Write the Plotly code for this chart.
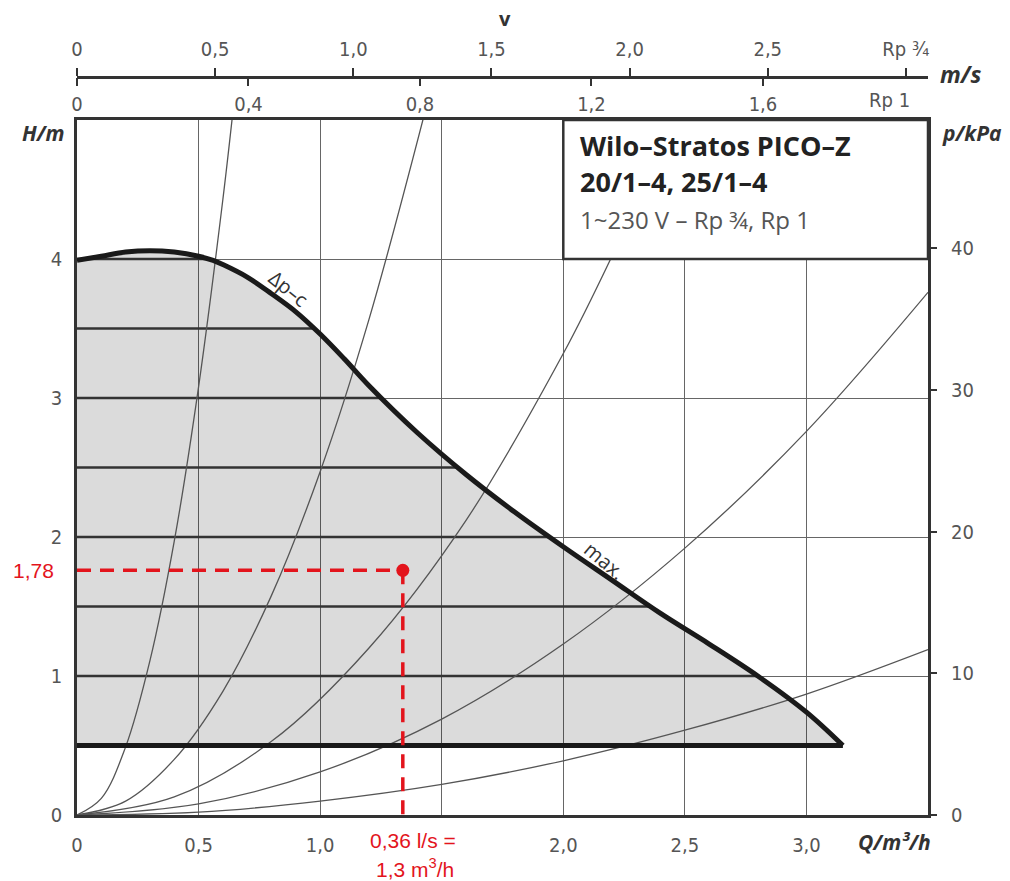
import numpy as np
import plotly.graph_objects as go

# ---------------- data ----------------
# max. curve of the pump (Q in m3/h, H in m)
max_q = [0, 0.1, 0.2, 0.3, 0.4, 0.5, 0.56, 0.6, 0.7, 0.8, 0.9, 1.0, 1.1, 1.2, 1.4, 1.6,
         1.8, 2.0, 2.2, 2.4, 2.6, 2.8, 3.0, 3.15]
max_h = [3.99, 4.02, 4.05, 4.06, 4.05, 4.02, 3.99, 3.96, 3.87, 3.75, 3.62, 3.46, 3.28, 3.09,
         2.75, 2.45, 2.18, 1.93, 1.69, 1.45, 1.23, 1.00, 0.74, 0.50]
min_level = 0.5
dpc_levels = [1.0, 1.5, 2.0, 2.5, 3.0, 3.5, 4.0]

# system curves (pipe characteristics)
sys1_q = [0, 0.1, 0.2, 0.3, 0.4, 0.5, 0.6, 0.64]
sys1_h = [0, 0.12, 0.49, 1.11, 1.97, 3.08, 4.43, 5.04]
sys2_q = [0, 0.2, 0.4, 0.6, 0.8, 1.0, 1.2, 1.43]
sys2_h = [0, 0.10, 0.40, 0.89, 1.58, 2.47, 3.56, 5.05]
sys3_q = [0, 0.4, 0.8, 1.2, 1.6, 2.0, 2.2, 2.46]
sys3_h = [0, 0.13, 0.53, 1.20, 2.12, 3.32, 4.02, 5.02]
sys4_q = [0, 0.5, 1.0, 1.5, 2.0, 2.5, 3.0, 3.5]
sys4_h = [0, 0.08, 0.31, 0.69, 1.23, 1.92, 2.76, 3.76]
sys5_q = [0, 0.5, 1.0, 1.5, 2.0, 2.5, 3.0, 3.5]
sys5_h = [0, 0.02, 0.10, 0.22, 0.39, 0.61, 0.87, 1.19]

# operating point
op_q = 1.34
op_h = 1.76
op_h_label = "1,78"
op_q_label = ["0,36 l/s =", "1,3 m<sup>3</sup>/h"]

# axes (the 1,5 label is hidden behind the red annotation in the original)
q_ticks = [0, 0.5, 1.0, 1.5, 2.0, 2.5, 3.0]
q_ticktext = ["0", "0,5", "1,0", "", "2,0", "2,5", "3,0"]
h_ticks = [0, 1, 2, 3, 4]
p_ticks = [0, 10, 20, 30, 40]
v34_ticks = [0, 0.5, 1.0, 1.5, 2.0, 2.5, 3.0]
v34_text = ["0", "0,5", "1,0", "1,5", "2,0", "2,5", "Rp ¾"]
v1_ticks = [0, 0.4, 0.8, 1.2, 1.6]
v1_text = ["0", "0,4", "0,8", "1,2", "1,6"]

title_lines = ["Wilo–Stratos PICO–Z", "20/1–4, 25/1–4", "1~230 V – Rp ¾, Rp 1"]

# ---------------- layout geometry ----------------
W, H = 1010, 881
ML, MR, MT, MB = 77, 82, 20, 66
plot_h = H - MT - MB
ydom_top = (H - MB - 120) / plot_h
vel_pos = (H - MB - 77) / plot_h

def px(xp):
    return (xp - ML) / (W - ML - MR)

def py(yp):
    return (H - MB - yp) / plot_h

X_MAX, Y_MAX = 3.5, 5.0

NARROW = "DejaVu Sans Condensed, Liberation Sans Narrow, Roboto Condensed, Arial Narrow, Roboto, sans-serif"
TICKFONT = dict(family=NARROW, size=20, color="#555555")
LINE = "#333333"
RED = "#e3141c"

fig = go.Figure()

# shaded operating region
fig.add_trace(go.Scatter(
    x=max_q + [max_q[-1], 0], y=max_h + [min_level, min_level],
    fill="toself", fillcolor="rgba(0,0,0,0.14)", line=dict(width=0),
    mode="lines", hoverinfo="skip", showlegend=False))

# Δp-c lines inside the region
desc_i = int(np.argmax(max_h))
dq = np.array(max_q[desc_i:])[::-1]
dh = np.array(max_h[desc_i:])[::-1]
for lev in dpc_levels:
    q_end = float(np.interp(lev, dh, dq))
    fig.add_trace(go.Scatter(x=[0, q_end], y=[lev, lev], mode="lines",
                             line=dict(color="#333333", width=2.6),
                             hoverinfo="skip", showlegend=False))

# system curves
for sq, sh in [(sys1_q, sys1_h), (sys2_q, sys2_h), (sys3_q, sys3_h),
               (sys4_q, sys4_h), (sys5_q, sys5_h)]:
    fig.add_trace(go.Scatter(x=sq, y=sh, mode="lines",
                             line=dict(color="#555555", width=1.3, shape="spline"),
                             hoverinfo="skip", showlegend=False))

# min line and max curve
fig.add_trace(go.Scatter(x=[0, max_q[-1]], y=[min_level, min_level], mode="lines",
                         line=dict(color="#1a1a1a", width=5),
                         hoverinfo="skip", showlegend=False))
fig.add_trace(go.Scatter(x=max_q, y=max_h, mode="lines",
                         line=dict(color="#1a1a1a", width=5, shape="spline", smoothing=1.0),
                         hoverinfo="skip", showlegend=False))

# operating point (red)
fig.add_trace(go.Scatter(x=[0, op_q], y=[op_h, op_h], mode="lines",
                         line=dict(color=RED, width=3.5, dash="14px,9px"),
                         hoverinfo="skip", showlegend=False))
fig.add_trace(go.Scatter(x=[op_q, op_q], y=[op_h, 0], mode="lines",
                         line=dict(color=RED, width=3.5, dash="14px,9px"),
                         hoverinfo="skip", showlegend=False))
fig.add_trace(go.Scatter(x=[op_q], y=[op_h], mode="markers",
                         marker=dict(color=RED, size=13),
                         hoverinfo="skip", showlegend=False))

# helper traces so the extra axes are drawn
fig.add_trace(go.Scatter(x=[0], y=[0], xaxis="x2", yaxis="y", mode="markers",
                         marker=dict(opacity=0), hoverinfo="skip", showlegend=False))
fig.add_trace(go.Scatter(x=[0], y=[0], xaxis="x3", yaxis="y", mode="markers",
                         marker=dict(opacity=0), hoverinfo="skip", showlegend=False))
fig.add_trace(go.Scatter(x=[0], y=[0], xaxis="x", yaxis="y2", mode="markers",
                         marker=dict(opacity=0), hoverinfo="skip", showlegend=False))

# title box
fig.add_shape(type="rect", xref="x", yref="y", x0=2.0, x1=X_MAX, y0=4.0, y1=Y_MAX,
              fillcolor="white", line=dict(color=LINE, width=2.5), layer="above")

ann = []

def add_ann(**kw):
    kw.setdefault("showarrow", False)
    kw.setdefault("xanchor", "center")
    kw.setdefault("yanchor", "middle")
    ann.append(kw)

TITLEF = "Open Sans, sans-serif"
add_ann(x=2.06, y=4.82, xref="x", yref="y", text="<b>" + title_lines[0] + "</b>",
        xanchor="left", font=dict(family=TITLEF, size=27, color="#222222"))
add_ann(x=2.06, y=4.555, xref="x", yref="y", text="<b>" + title_lines[1] + "</b>",
        xanchor="left", font=dict(family=TITLEF, size=27, color="#222222"))
add_ann(x=2.06, y=4.285, xref="x", yref="y", text=title_lines[2],
        xanchor="left", font=dict(family=TITLEF, size=24, color="#555555"))

# curve labels
add_ann(x=0.87, y=3.79, xref="x", yref="y", text="Δp–c", textangle=39,
        font=dict(family=TITLEF, size=20, color="#333333"))
add_ann(x=2.17, y=1.83, xref="x", yref="y", text="max.", textangle=40,
        font=dict(family=TITLEF, size=20, color="#333333"))

# axis titles
TFONT = dict(family=TITLEF, size=21, color="#333333")
add_ann(x=px(43), y=py(133), xref="paper", yref="paper", text="<b><i>H/m</i></b>", font=TFONT)
add_ann(x=px(972), y=py(133), xref="paper", yref="paper", text="<b><i>p/kPa</i></b>", font=TFONT)
add_ann(x=px(894), y=py(842), xref="paper", yref="paper", text="<b><i>Q/m³/h</i></b>", font=TFONT)
add_ann(x=px(960), y=py(74), xref="paper", yref="paper", text="<b><i>m/s</i></b>",
        font=dict(family=TITLEF, size=23, color="#333333"))
add_ann(x=px(505), y=py(18), xref="paper", yref="paper", text="<b>v</b>",
        font=dict(family=TITLEF, size=20, color="#333333"))
add_ann(x=px(889), y=py(100), xref="paper", yref="paper", text="Rp 1", font=TICKFONT)

# red labels
RFONT = dict(family="Liberation Sans Narrow, Liberation Sans, Arial, sans-serif", size=21, color=RED)
add_ann(x=px(56), y=op_h, xref="paper", yref="y", text=op_h_label, xanchor="right", font=RFONT)
add_ann(x=op_q, y=py(840), xref="x", yref="paper", text=op_q_label[0], xshift=10, font=RFONT)
add_ann(x=op_q, y=py(868), xref="x", yref="paper", text=op_q_label[1], xshift=12, font=RFONT)

fig.update_layout(
    width=W, height=H, margin=dict(l=ML, r=MR, t=MT, b=MB, autoexpand=False),
    paper_bgcolor="white", plot_bgcolor="white", showlegend=False,
    annotations=ann,
    xaxis=dict(range=[0, X_MAX], domain=[0, 1], tickvals=q_ticks, ticktext=q_ticktext,
               showgrid=True, gridcolor="#666666", gridwidth=1.4,
               showline=True, linecolor=LINE, linewidth=3, mirror=True,
               zeroline=False, ticks="", tickfont=TICKFONT, ticklabelstandoff=10,
               anchor="y"),
    yaxis=dict(range=[0, Y_MAX], domain=[0, ydom_top], tickvals=h_ticks,
               showgrid=True, gridcolor="#666666", gridwidth=1.4,
               showline=True, linecolor=LINE, linewidth=2.5, mirror=True,
               zeroline=False, ticks="", tickfont=TICKFONT, ticklabelstandoff=8),
    yaxis2=dict(range=[0, Y_MAX * 9.81], overlaying="y", side="right", anchor="x",
                tickvals=p_ticks, showgrid=False, zeroline=False, showline=False,
                ticks="outside", ticklen=8, tickwidth=2, tickcolor=LINE,
                tickfont=TICKFONT, ticklabelstandoff=10),
    xaxis2=dict(range=[0, 3.08], overlaying="x", anchor="free", position=vel_pos,
                side="top", tickvals=v34_ticks, ticktext=v34_text,
                showgrid=False, zeroline=False, showline=True, linecolor=LINE, linewidth=2.5,
                ticks="outside", ticklen=8, tickwidth=2, tickcolor=LINE,
                tickfont=TICKFONT, ticklabelstandoff=4),
    xaxis3=dict(range=[0, 1.985], overlaying="x", anchor="free", position=vel_pos,
                side="bottom", tickvals=v1_ticks, ticktext=v1_text,
                showgrid=False, zeroline=False, showline=False,
                ticks="outside", ticklen=8, tickwidth=2, tickcolor=LINE,
                tickfont=TICKFONT, ticklabelstandoff=1),
)

fig.write_html("out.html", config={"displayModeBar": False},
               post_script="document.body.style.margin='0px';")
